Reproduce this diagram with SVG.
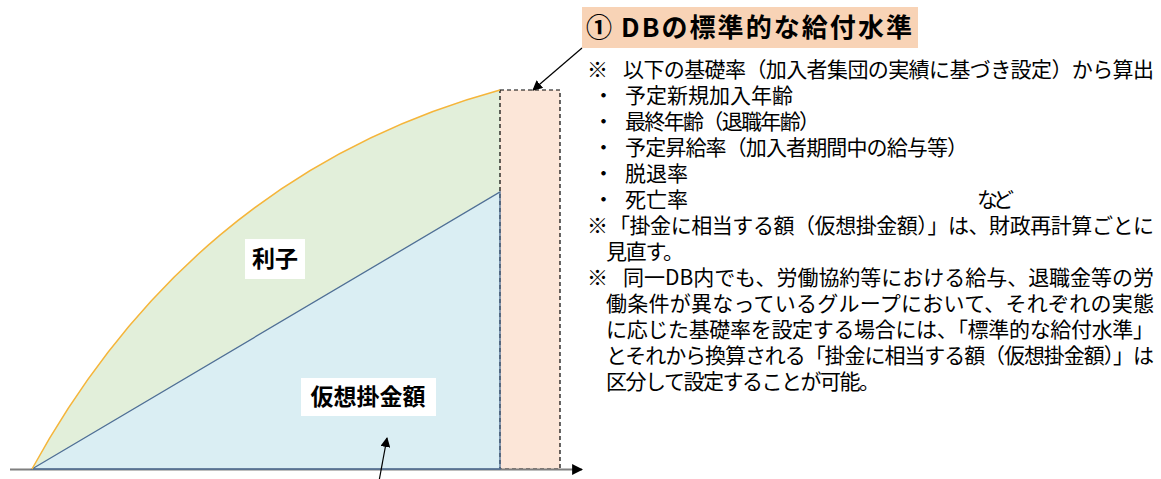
<svg xmlns="http://www.w3.org/2000/svg" width="1161" height="479" viewBox="0 0 1161 479">
<style>
.t{font-family:"Noto Sans CJK JP","Noto Sans",sans-serif;font-size:21px;fill:#000}
.lbl{font-family:"Noto Sans CJK JP","Noto Sans",sans-serif;font-size:23px;font-weight:bold;fill:#000}
.ttl{font-family:"Noto Sans CJK JP","Noto Sans",sans-serif;font-size:26px;font-weight:bold;fill:#000}
</style>
<defs>
<marker id="ah" viewBox="0 0 10 10" refX="9" refY="5" markerWidth="10" markerHeight="10" markerUnits="userSpaceOnUse" orient="auto"><path d="M0,0 L10,5 L0,10 z" fill="#000"/></marker>
<marker id="ax" viewBox="0 0 10 10" refX="9" refY="5" markerWidth="11" markerHeight="11" markerUnits="userSpaceOnUse" orient="auto"><path d="M0,0 L10,5 L0,10 z" fill="#000"/></marker>
</defs>
<g id="chart">
<path d="M32,469 C130,290 280,150 500,90 L500,192 Z" fill="#E2EFDA"/>
<path d="M32,469 L500,192 L500,469 Z" fill="#DAEEF3"/>
<rect x="500" y="90" width="60" height="379" fill="#FCE6D8" stroke="#000" stroke-width="1.2" stroke-dasharray="4,3"/>
<line x1="10" y1="469.5" x2="582" y2="469.5" stroke="#7F7F7F" stroke-width="2" marker-end="url(#ax)"/>
<path d="M32,469 L500,192 L500,469 Z" fill="none" stroke="#4F6F95" stroke-width="1.3"/>
<path d="M32,469 C130,290 280,150 500,90" fill="none" stroke="#F5B53A" stroke-width="1.5"/>
</g>
<g id="label-interest">
<rect x="245" y="239" width="60" height="40" fill="#fff"/>
<text class="lbl" x="275" y="267" text-anchor="middle">利子</text>
</g>
<g id="label-contribution">
<rect x="301" y="378" width="135" height="38" fill="#fff"/>
<text class="lbl" x="368" y="405" text-anchor="middle">仮想掛金額</text>
</g>
<g id="title">
<rect x="582" y="7" width="336" height="41" fill="#F8D3B6"/>
<text class="ttl" x="586" y="37">①</text>
<text class="ttl" x="621" y="37" textLength="291" lengthAdjust="spacing">DBの標準的な給付水準</text>
</g>
<g id="connectors" fill="none" stroke="#000" stroke-width="1.2">
<line x1="582" y1="48" x2="533" y2="90" marker-end="url(#ah)"/>
<line x1="377" y1="492" x2="387" y2="438" marker-end="url(#ah)"/>
</g>
<g id="notes">
<text class="t" x="587" y="77">※</text>
<text class="t" x="623" y="77" textLength="531" lengthAdjust="spacing">以下の基礎率（加入者集団の実績に基づき設定）から算出</text>
<text class="t" x="593" y="103">・</text>
<text class="t" x="625" y="103" textLength="168" lengthAdjust="spacing">予定新規加入年齢</text>
<text class="t" x="593" y="129">・</text>
<text class="t" x="625" y="129" textLength="195" lengthAdjust="spacing">最終年齢（退職年齢）</text>
<text class="t" x="593" y="155">・</text>
<text class="t" x="625" y="155" textLength="343" lengthAdjust="spacing">予定昇給率（加入者期間中の給与等）</text>
<text class="t" x="593" y="181">・</text>
<text class="t" x="625" y="181">脱退率</text>
<text class="t" x="593" y="207">・</text>
<text class="t" x="625" y="207">死亡率</text>
<text class="t" x="977" y="207" textLength="37" lengthAdjust="spacing">など</text>
<text class="t" x="587" y="233">※</text>
<text class="t" x="609" y="233" textLength="545" lengthAdjust="spacing">「掛金に相当する額（仮想掛金額）」は、財政再計算ごとに</text>
<text class="t" x="606" y="259" textLength="78" lengthAdjust="spacing">見直す。</text>
<text class="t" x="587" y="285">※</text>
<text class="t" x="623" y="285" textLength="531" lengthAdjust="spacing">同一DB内でも、労働協約等における給与、退職金等の労</text>
<text class="t" x="606" y="311" textLength="548" lengthAdjust="spacing">働条件が異なっているグループにおいて、それぞれの実態</text>
<text class="t" x="606" y="337" textLength="548" lengthAdjust="spacing">に応じた基礎率を設定する場合には、「標準的な給付水準」</text>
<text class="t" x="606" y="363" textLength="548" lengthAdjust="spacing">とそれから換算される「掛金に相当する額（仮想掛金額）」は</text>
<text class="t" x="606" y="389" textLength="274" lengthAdjust="spacing">区分して設定することが可能。</text>
</g>
</svg>
